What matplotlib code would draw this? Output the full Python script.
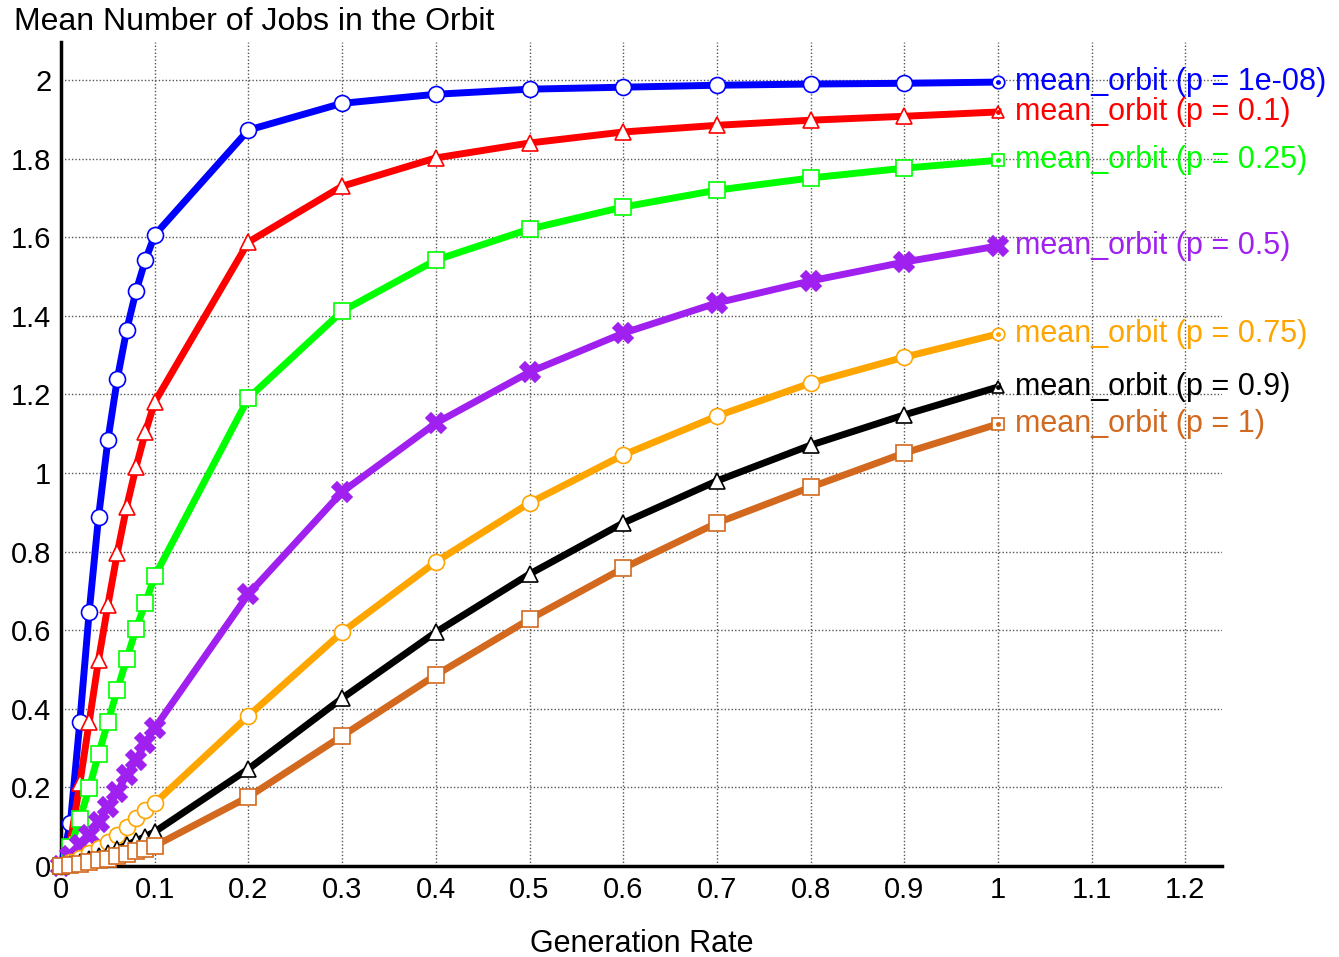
import matplotlib
matplotlib.use("Agg")
import matplotlib.pyplot as plt

# generation rates sampled
rates = [0, 0.01, 0.02, 0.03, 0.04, 0.05, 0.06, 0.07, 0.08, 0.09, 0.1,
         0.2, 0.3, 0.4, 0.5, 0.6, 0.7, 0.8, 0.9, 1.0]

p_labels = ["1e-08", "0.1", "0.25", "0.5", "0.75", "0.9", "1"]

orbit_1e8 = [0, 0.11, 0.366, 0.646, 0.888, 1.084, 1.239, 1.364, 1.463, 1.542, 1.606,
             1.873, 1.941, 1.964, 1.977, 1.982, 1.987, 1.990, 1.992, 1.995]
orbit_01 = [0, 0.06, 0.21, 0.366, 0.524, 0.664, 0.796, 0.914, 1.015, 1.104, 1.181,
            1.588, 1.730, 1.802, 1.840, 1.868, 1.885, 1.898, 1.908, 1.919]
orbit_025 = [0, 0.048, 0.12, 0.198, 0.285, 0.366, 0.448, 0.527, 0.603, 0.669, 0.738,
             1.191, 1.412, 1.542, 1.621, 1.677, 1.720, 1.751, 1.776, 1.796]
orbit_05 = [0, 0.025, 0.053, 0.079, 0.112, 0.15, 0.188, 0.232, 0.27, 0.313, 0.351,
            0.692, 0.952, 1.127, 1.257, 1.356, 1.433, 1.489, 1.537, 1.578]
orbit_075 = [0, 0.01, 0.02, 0.033, 0.045, 0.061, 0.079, 0.1, 0.122, 0.142, 0.16,
             0.382, 0.595, 0.774, 0.924, 1.046, 1.145, 1.229, 1.295, 1.354]
orbit_09 = [0, 0.005, 0.011, 0.018, 0.026, 0.034, 0.043, 0.053, 0.064, 0.075, 0.087,
            0.247, 0.427, 0.595, 0.743, 0.873, 0.98, 1.071, 1.148, 1.219]
orbit_1 = [0, 0.002, 0.005, 0.009, 0.014, 0.019, 0.025, 0.031, 0.037, 0.044, 0.051,
           0.176, 0.331, 0.486, 0.628, 0.758, 0.873, 0.964, 1.051, 1.125]

series = [orbit_1e8, orbit_01, orbit_025, orbit_05, orbit_075, orbit_09, orbit_1]
colors = ["#0000ff", "#ff0000", "#00ff00", "#a020f0", "#ffa500", "#000000", "#d2691e"]
markers = ["o", "^", "s", "X", "o", "^", "s"]

plt.rcParams["font.family"] = ["Liberation Sans", "DejaVu Sans"]

fig = plt.figure(figsize=(13.39, 9.57), dpi=100)
ax = fig.add_axes([0.0456, 0.0951, 0.867, 0.861])

for ys, c, m, p in zip(series, colors, markers, p_labels):
    filled = m == "X"
    ax.plot(rates, ys, color=c, lw=5, marker=m,
            markevery=list(range(len(rates) - 1)),
            ms=14 if filled else 11.5,
            mfc=c if filled else "white", mec=c, mew=1.2,
            clip_on=False, zorder=3)
    # the end point carries a small legend-style marker
    ax.plot(rates[-1], ys[-1], marker=m, ms=14 if filled else 9,
            mfc=c if filled else "white", mec=c, mew=1.2,
            clip_on=False, zorder=4)
    if not filled:
        ax.plot(rates[-1], ys[-1], marker="o", ms=2.5, color=c,
                clip_on=False, zorder=5)
    ax.annotate(f"mean_orbit (p = {p})", (rates[-1], ys[-1]),
                xytext=(12, 0), textcoords="offset points",
                color=c, fontsize=22, va="center", ha="left",
                annotation_clip=False)

ax.set_xlim(0, 1.239)
ax.set_ylim(0, 2.097)
ax.set_xticks([0, 0.1, 0.2, 0.3, 0.4, 0.5, 0.6, 0.7, 0.8, 0.9, 1, 1.1, 1.2])
ax.set_xticklabels(["0", "0.1", "0.2", "0.3", "0.4", "0.5", "0.6", "0.7",
                    "0.8", "0.9", "1", "1.1", "1.2"])
ax.set_yticks([0, 0.2, 0.4, 0.6, 0.8, 1, 1.2, 1.4, 1.6, 1.8, 2])
ax.set_yticklabels(["0", "0.2", "0.4", "0.6", "0.8", "1", "1.2", "1.4",
                    "1.6", "1.8", "2"])
ax.tick_params(length=0, labelsize=21, pad=7)
ax.grid(True, color="#555555", lw=1, ls=(0, (1, 1.5)))
ax.set_axisbelow(True)

for side in ("top", "right"):
    ax.spines[side].set_visible(False)
for side in ("left", "bottom"):
    ax.spines[side].set_linewidth(2.5)

ax.set_xlabel("Generation Rate", fontsize=22, labelpad=18)
fig.text(0.0105, 0.977, "Mean Number of Jobs in the Orbit",
         fontsize=23, va="center", ha="left")

fig.savefig("out.png", dpi=100)
